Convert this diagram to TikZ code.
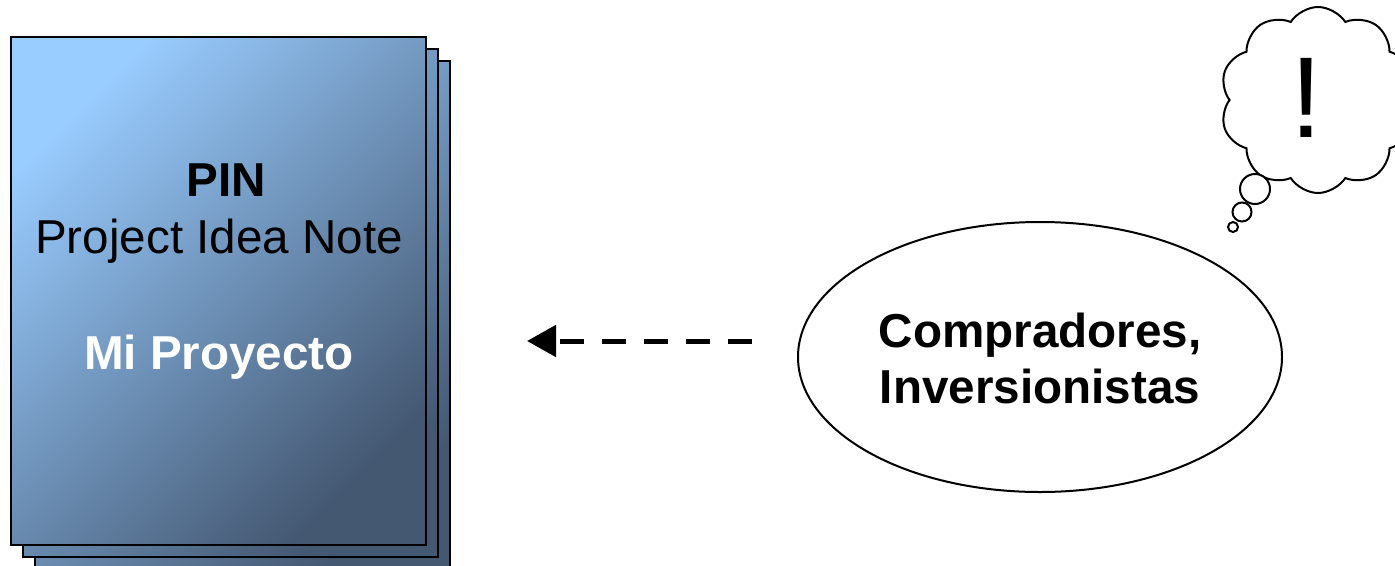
\documentclass[tikz,border=0pt]{standalone}
\usepackage{fontspec}
\setmainfont{Liberation Sans}
\usetikzlibrary{shapes.geometric,shapes.symbols,arrows.meta}
\definecolor{pglight}{RGB}{153,204,255}
\definecolor{pgdark}{RGB}{68,88,114}
\tikzset{
  page/.style={draw=black, line width=2pt, top color=pglight, bottom color=pgdark, shading angle=45},
  txt/.style={inner sep=0pt, anchor=base, font=\fontsize{47.6}{56}\selectfont},
  btxt/.style={txt, font=\fontsize{47.6}{56}\selectfont\bfseries},
  dashlink/.style={line width=5pt, dash pattern=on 24pt off 18pt, -{Triangle[length=29pt 0 0,width=31pt 0 0]}},
  bubble/.style={draw=black, line width=2pt, fill=white, circle, inner sep=0pt},
}
\begin{document}
\begin{tikzpicture}[x=1pt,y=-1pt]
\useasboundingbox (0,0) rectangle (1395,565);
% stacked pages
\path[page] (35,61) rectangle (450,580);
\path[page] (23,49) rectangle (438,557);
\path[page] (11,37) rectangle (426,545);
\node[btxt] (pin) at (226,196) {PIN};
\node[txt] (pidea) at (219,253) {Project Idea Note};
\node[btxt, text=white] (mip) at (219,369) {Mi Proyecto};
% ellipse
\node[draw=black, line width=2pt, ellipse, minimum width=484pt, minimum height=270pt, inner sep=0pt] (buy) at (1040,357) {};
\node[btxt] (buy1) at (1040,347) {Compradores,};
\node[btxt] (buy2) at (1040,403) {Inversionistas};
% arrow
\coordinate (arrS) at (752,341);
\coordinate (arrE) at (527,341);
\draw[dashlink] (arrS) -- (arrE);
% thought cloud
\node[cloud, draw=black, line width=2pt, fill=white, cloud puffs=10, cloud puff arc=115, aspect=1, minimum width=196pt, minimum height=186pt, inner sep=0pt] (cloud) at (1318,100) {};
\node[inner sep=0pt, anchor=base, font=\fontsize{115}{120}\selectfont] (bang) at (1306,137) {!};
\node[bubble, minimum size=30pt] (b1) at (1255,189) {};
\node[bubble, minimum size=19pt] (b2) at (1242,212) {};
\node[bubble, minimum size=10pt] (b3) at (1233,227) {};
\end{tikzpicture}
\end{document}
